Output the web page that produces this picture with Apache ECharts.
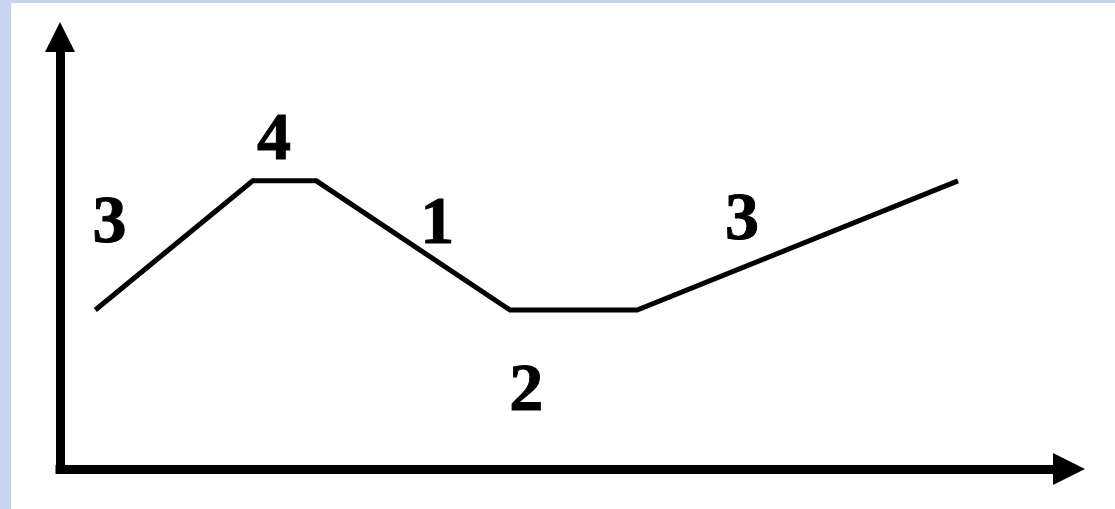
<!DOCTYPE html>
<html>
<head>
<meta charset="utf-8">
<script src="https://cdn.jsdelivr.net/npm/echarts@6/dist/echarts.min.js"></script>
<style>
html,body{margin:0;padding:0;background:#c6d4ef;width:1115px;height:509px;overflow:hidden;}
#paper{position:absolute;left:11px;top:3px;right:0;bottom:0;background:#ffffff;}
#chart{position:absolute;left:0;top:0;width:1115px;height:509px;}
</style>
</head>
<body>
<div id="paper"></div>
<div id="chart"></div>
<script>
// Polyline vertices (x, y) in chart units (0-100 on both axes)
const lineX = [3.5, 19.1, 25.4, 44.6, 57.2, 89.0];
const lineY = [36.8, 66.7, 66.7, 36.8, 36.8, 66.7];
// Segment labels
const labelText = ['3', '4', '1', '2', '3'];
const labelX = [4.9, 21.2, 37.4, 46.2, 67.6];
const labelY = [56.5, 75.9, 56.3, 17.8, 57.2];

const chart = echarts.init(document.getElementById('chart'), null, {renderer: 'canvas'});
const axisLineCommon = {
  show: true,
  symbol: ['none', 'triangle'],
  lineStyle: {color: '#000', width: 9, cap: 'square'}
};
chart.setOption({
  backgroundColor: 'transparent',
  animation: false,
  grid: {left: 60, right: 46, top: 37, bottom: 40},
  xAxis: {
    type: 'value', min: 0, max: 100,
    axisLine: Object.assign({}, axisLineCommon, {symbolSize: [32, 32]}),
    axisTick: {show: false}, axisLabel: {show: false}, splitLine: {show: false}
  },
  yAxis: {
    type: 'value', min: 0, max: 100,
    axisLine: Object.assign({}, axisLineCommon, {symbolSize: [30, 30]}),
    axisTick: {show: false}, axisLabel: {show: false}, splitLine: {show: false}
  },
  series: [
    {
      type: 'line',
      data: lineX.map((x, i) => [x, lineY[i]]),
      showSymbol: false,
      symbol: 'none',
      lineStyle: {color: '#000', width: 5, join: 'miter'}
    },
    {
      type: 'scatter',
      data: labelX.map((x, i) => ({value: [x, labelY[i]], name: labelText[i]})),
      symbolSize: 1,
      itemStyle: {color: 'rgba(0,0,0,0)'},
      label: {
        show: true,
        position: 'inside',
        formatter: p => p.name,
        color: '#000000',
        opacity: 1,
        textBorderColor: '#000000',
        textBorderWidth: 1,
        fontFamily: '"Liberation Serif", "Times New Roman", serif',
        fontWeight: 'bold',
        fontSize: 68
      }
    }
  ]
});
</script>
</body>
</html>
